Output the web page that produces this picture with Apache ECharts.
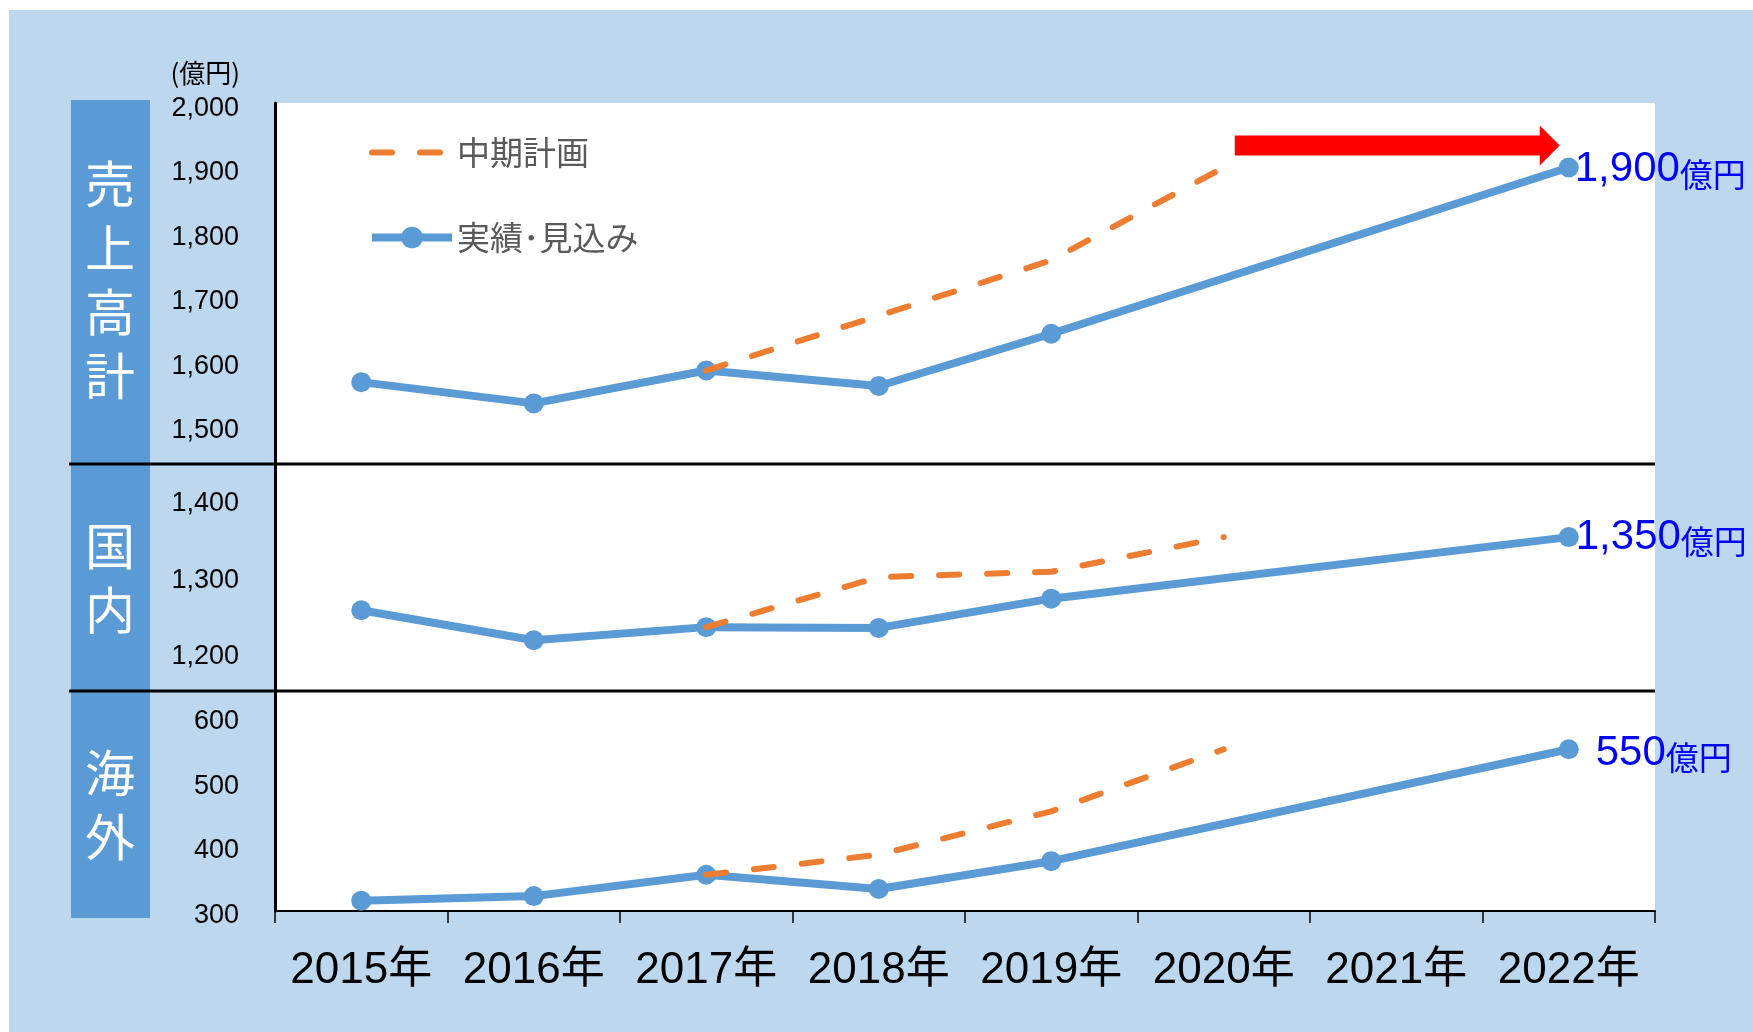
<!DOCTYPE html>
<html lang="ja">
<head>
<meta charset="utf-8">
<title>売上高計・国内・海外</title>
<script src="https://cdn.jsdelivr.net/npm/echarts@6/dist/echarts.min.js"></script>
<style>
  html, body { margin: 0; padding: 0; background: #fff; }
  .chart-wrap { position: relative; width: 1753px; height: 1032px; }
  .chart-bg { position: absolute; left: 9px; top: 10px; right: 0; bottom: 0; background: #bdd7ee; }
  #main { position: absolute; left: 0; top: 0; width: 100%; height: 100%; }
</style>
</head>
<body>
<div class="chart-wrap">
  <div class="chart-bg"></div>
  <div id="main"></div>
</div>
<script>
// 年度
var years = ['2015年', '2016年', '2017年', '2018年', '2019年', '2020年', '2021年', '2022年'];

// 売上高計（億円）
var totalActual = [1567, 1534, 1585, 1561, 1642, null, null, 1900];
var totalPlan = [null, null, 1585, 1670, 1756, 1900, null, null];
// 国内
var domesticActual = [1255, 1216, 1233, 1232, 1270, null, null, 1350];
var domesticPlan = [null, null, 1233, 1298, 1305, 1350, null, null];
// 海外
var overseasActual = [316, 323, 356, 334, 377, null, null, 550];
var overseasPlan = [null, null, 356, 387, 454, 550, null, null];

// 目盛り
var totalTicks = [1500, 1600, 1700, 1800, 1900, 2000];
var domesticTicks = [1200, 1300, 1400];
var overseasTicks = [300, 400, 500, 600];

var BLUE = '#5b9bd5';
var ORANGE = '#ed7d31';
var CJK = '"Noto Sans CJK JP", sans-serif';
var SANS = '"Liberation Sans", Arial, "Noto Sans CJK JP", sans-serif';

var chartDom = document.getElementById('main');
var myChart = echarts.init(chartDom);

function fmt(v) {
  return Number(v).toLocaleString('en-US');
}

// 実績・見込み（最後の点にラベル）
function actualSeries(idx, data, labelDist, labelOffset) {
  return {
    name: '実績･見込み',
    type: 'line',
    xAxisIndex: idx,
    yAxisIndex: idx,
    connectNulls: true,
    symbol: 'circle',
    symbolSize: 20,
    lineStyle: { color: BLUE, width: 8 },
    itemStyle: { color: BLUE },
    z: 3,
    data: data.map(function (v, i) {
      if (i === data.length - 1) {
        return {
          value: v,
          label: {
            show: true,
            position: 'right',
            distance: labelDist,
            offset: labelOffset,
            formatter: function (p) {
              return '{n|' + fmt(p.value) + '}{u|億円}';
            },
            rich: {
              n: { fontFamily: SANS, fontSize: 42, color: '#0000ff', verticalAlign: 'bottom' },
              u: { fontFamily: CJK, fontSize: 33, color: '#0000ff', verticalAlign: 'bottom' }
            }
          }
        };
      }
      return v;
    })
  };
}

// 中期計画
function planSeries(idx, data) {
  return {
    name: '中期計画',
    type: 'line',
    xAxisIndex: idx,
    yAxisIndex: idx,
    symbol: 'none',
    lineStyle: { color: ORANGE, width: 6, type: [20, 28], cap: 'round' },
    itemStyle: { color: ORANGE },
    z: 4,
    data: data
  };
}

// lh: 目盛りラベルを少し下げるための行高
function valueAxis(idx, min, max, ticks, lh) {
  return {
    type: 'value',
    gridIndex: idx,
    min: min,
    max: max,
    splitLine: { show: false },
    axisTick: { show: false },
    axisLine: { show: true, lineStyle: { color: '#000', width: 3 } },
    axisLabel: {
      customValues: ticks,
      margin: 36,
      fontFamily: SANS,
      fontSize: 27,
      color: '#000',
      verticalAlign: 'top',
      lineHeight: lh,
      formatter: fmt
    }
  };
}

function catAxis(idx, visible) {
  return {
    type: 'category',
    gridIndex: idx,
    data: years,
    show: visible,
    boundaryGap: true,
    axisLine: { onZero: false, lineStyle: { color: '#000', width: 2 } },
    axisTick: { show: true, length: 12, lineStyle: { color: '#000', width: 1.5 } },
    axisLabel: {
      interval: 0,
      margin: 38,
      fontFamily: SANS,
      fontSize: 44,
      color: '#000'
    }
  };
}

var staticGraphics = [
  // 左の見出し帯
  { id: 'band', type: 'rect', z: 1, shape: { x: 71, y: 100, width: 79, height: 818 }, style: { fill: BLUE } },
  { id: 't1', type: 'text', z: 2, x: 110, y: 280,
    style: { text: '売\n上\n高\n計', fill: '#fff', font: '50px ' + CJK, lineHeight: 64, textAlign: 'center', textVerticalAlign: 'middle' } },
  { id: 't2', type: 'text', z: 2, x: 110, y: 578,
    style: { text: '国\n内', fill: '#fff', font: '50px ' + CJK, lineHeight: 64, textAlign: 'center', textVerticalAlign: 'middle' } },
  { id: 't3', type: 'text', z: 2, x: 110, y: 805,
    style: { text: '海\n外', fill: '#fff', font: '50px ' + CJK, lineHeight: 64, textAlign: 'center', textVerticalAlign: 'middle' } },
  { id: 'unit', type: 'text', z: 2, x: 240, y: 73,
    style: { text: '(億円)', fill: '#000', font: '26px ' + CJK, textAlign: 'right', textVerticalAlign: 'middle' } },
  // 区切り線
  { id: 'div1', type: 'line', z: 50, shape: { x1: 69, y1: 464, x2: 1655, y2: 464 }, style: { stroke: '#000', lineWidth: 3 } },
  { id: 'div2', type: 'line', z: 50, shape: { x1: 69, y1: 691, x2: 1655, y2: 691 }, style: { stroke: '#000', lineWidth: 3 } }
];

var gridBase = { left: 275, right: 98, show: true, backgroundColor: '#fff', borderWidth: 0, outerBoundsMode: 'none' };

var option = {
  animation: false,
  graphic: staticGraphics,
  legend: {
    data: [
      { name: '中期計画', itemStyle: { opacity: 0 }, lineStyle: { color: ORANGE, width: 6, type: [20, 28], cap: 'round' } },
      { name: '実績･見込み', lineStyle: { color: BLUE, width: 8 } }
    ],
    orient: 'vertical',
    left: 363,
    top: 131,
    itemWidth: 80,
    itemHeight: 27,
    itemGap: 52,
    selectedMode: false,
    textStyle: { fontFamily: CJK, fontSize: 33, color: '#595959' }
  },
  grid: [
    Object.assign({ top: 103, height: 361 }, gridBase),
    Object.assign({ top: 464, height: 227 }, gridBase),
    Object.assign({ top: 691, height: 220 }, gridBase)
  ],
  xAxis: [catAxis(0, false), catAxis(1, false), catAxis(2, true)],
  yAxis: [
    valueAxis(0, 1440, 2000, totalTicks, 11),
    valueAxis(1, 1150, 1445, domesticTicks, 9),
    valueAxis(2, 300, 640, overseasTicks, 9)
  ],
  series: [
    actualSeries(0, totalActual, -4, [0, 2]),
    planSeries(0, totalPlan),
    actualSeries(1, domesticActual, -3, [0, 0]),
    planSeries(1, domesticPlan),
    actualSeries(2, overseasActual, 17, [0, 4]),
    planSeries(2, overseasPlan)
  ]
};
myChart.setOption(option);

// 赤い矢印：計画2020年の点から2022年の実績・見込みの点へ
var pFrom = myChart.convertToPixel({ gridIndex: 0 }, [years[5], totalPlan[5]]);
var pTo = myChart.convertToPixel({ gridIndex: 0 }, [years[7], totalActual[7]]);
var x0 = pFrom[0] + 11;
var x1 = pTo[0] - 9;
var yc = pTo[1] - 22;
myChart.setOption({
  graphic: staticGraphics.concat([{
    id: 'arrow',
    type: 'polygon',
    z: 60,
    shape: {
      points: [
        [x0, yc - 10], [x1 - 20, yc - 10], [x1 - 20, yc - 20], [x1, yc],
        [x1 - 20, yc + 20], [x1 - 20, yc + 10], [x0, yc + 10]
      ]
    },
    style: { fill: '#ff0000' }
  }])
});

window.addEventListener('resize', function () {
  myChart.resize();
});
</script>
</body>
</html>
